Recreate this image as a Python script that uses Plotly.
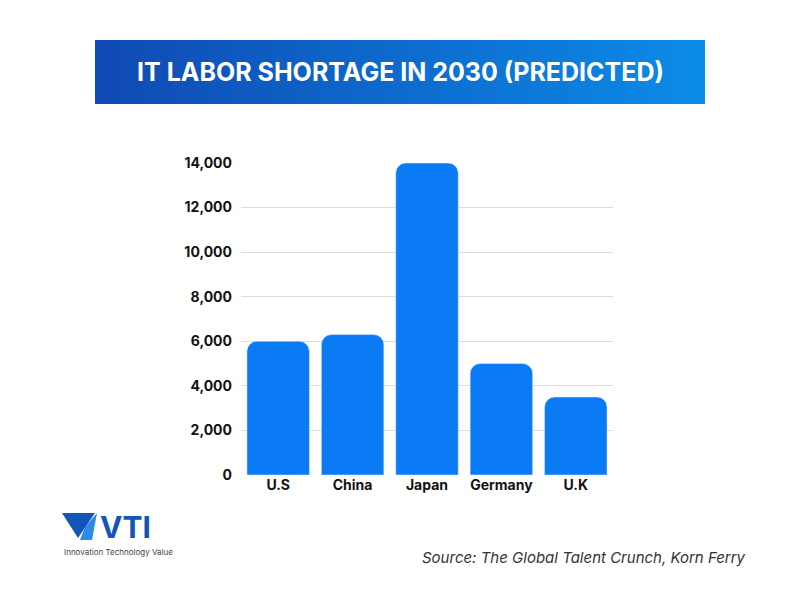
import plotly.graph_objects as go

countries = ["U.S", "China", "Japan", "Germany", "U.K"]
shortage = [6000, 6300, 14000, 5000, 3500]
ticks = [0, 2000, 4000, 6000, 8000, 10000, 12000, 14000]

fig = go.Figure(go.Bar(x=countries, y=shortage, marker=dict(color="#0A7BF5", cornerradius=10)))

OX, OY = 8, 8
L, R, T, B = 241, 613, 163, 475
W, H = R - L, B - T

def px(x, y):
    return (x - L) / W, (B - y) / H

shapes = []
x0, x1, y0, y1 = 95, 705, 40, 104
n = 80
c0, c1 = (16, 74, 180), (12, 140, 232)
for i in range(n):
    t = i / (n - 1)
    col = "rgb(%d,%d,%d)" % tuple(int(a + (b - a) * t) for a, b in zip(c0, c1))
    xa = x0 + (x1 - x0) * i / n
    xb = x0 + (x1 - x0) * (i + 1) / n + 1.5
    if i == n - 1:
        xb = x1
    ax0, ay0 = px(xa, y1)
    ax1, ay1 = px(xb, y0)
    shapes.append(dict(type="rect", xref="paper", yref="paper", layer="below",
                       x0=ax0, x1=ax1, y0=ay0, y1=ay1, fillcolor=col, line=dict(width=0)))

def poly(pts, col):
    path = "M " + " L ".join("%f,%f" % px(*p) for p in pts) + " Z"
    shapes.append(dict(type="path", xref="paper", yref="paper", path=path, fillcolor=col, line=dict(width=0)))
poly([(62, 513), (95, 513), (78, 538)], "#1456B8")
poly([(85, 527), (97, 513), (92, 540), (80, 540)], "#2A8BEA")

ann = []
def a(text, x, y, size, color, anchor="center", weight="normal", italic=False):
    ax, ay = px(x, y)
    ann.append(dict(text=text, x=ax, y=ay, xref="paper", yref="paper", showarrow=False,
                    xanchor=anchor, yanchor="middle",
                    font=dict(size=size, color=color, family="Inter", weight=weight,
                              style="italic" if italic else "normal")))
a("IT LABOR SHORTAGE IN 2030 (PREDICTED)", 400, 72, 25, "white", weight="bold")
a("VTI", 98, 527, 30, "#1456B8", anchor="left", weight="bold")
a("Innovation Technology Value", 62, 552, 8, "#444", anchor="left")
a("Source: The Global Talent Crunch, Korn Ferry", 748, 557, 15, "#333", anchor="right", italic=True)

fig.update_layout(
    width=800, height=600, paper_bgcolor="white", plot_bgcolor="white",
    margin=dict(l=L - OX, r=800 - R + OX, t=T - OY, b=600 - B + OY),
    bargap=0.16, showlegend=False, shapes=shapes, annotations=ann,
    font=dict(family="Inter", size=14, color="#111"),
    xaxis=dict(tickfont=dict(size=14, weight="bold"), showline=False, ticks=""),
    yaxis=dict(range=[0, 14000], tickvals=ticks, tickformat=",", tickfont=dict(size=14, weight="bold"),
               gridcolor="#DDDDDD", zeroline=False, ticklabelstandoff=8),
)
fig.write_html("out.html")
